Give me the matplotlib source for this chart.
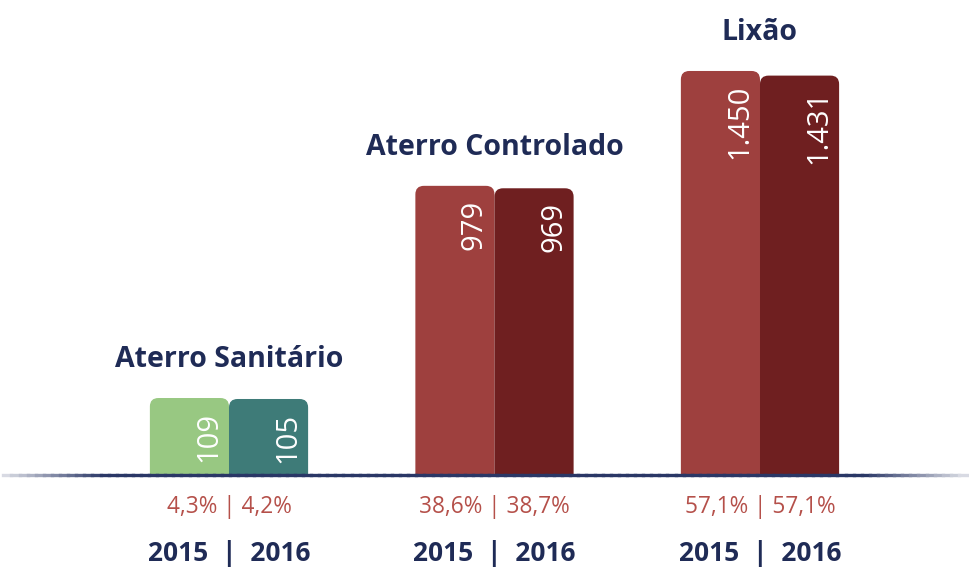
"""
Unidades de destinação final por tipo - 2015 x 2016
"""
import matplotlib
matplotlib.use("Agg")
import matplotlib.pyplot as plt
import numpy as np
from matplotlib.patches import FancyBboxPatch, Rectangle
from matplotlib.collections import LineCollection

plt.rcParams["font.family"] = ["Open Sans", "DejaVu Sans"]

categories = ["Aterro Sanitário", "Aterro Controlado", "Lixão"]
years = ["2015", "2016"]
values_2015 = [109, 979, 1450]
values_2016 = [105, 969, 1431]
pct_2015 = [4.3, 38.6, 57.1]
pct_2016 = [4.2, 38.7, 57.1]

colors_2015 = ["#98c882", "#9e403e", "#9e403e"]
colors_2016 = ["#3e7b78", "#6f1f20", "#6f1f20"]
NAVY = "#1f2b56"
PCT_COLOR = "#b5504a"

# bars are drawn with a visual offset below zero (values not to scale in source)
OFFSET = 207
X_PX = 265.5       # pixels per x unit
Y_PX = 0.2438      # pixels per y unit
WIDTH = 0.298

fig = plt.figure(figsize=(9.7, 5.68), dpi=100)
ax = fig.add_axes([0, 0, 1, 1])
ax.set_xlim(-0.8625, 2.791)
ax.set_ylim(-588, 1741)
ax.axis("off")

base = -OFFSET
clip = Rectangle((-1, base), 5, 5000, transform=ax.transData)


def fmt_int(v):
    return f"{v:,}".replace(",", ".")


def rounded_bar(x, h, color):
    patch = FancyBboxPatch(
        (x, base - 100), WIDTH, h + OFFSET + 100,
        boxstyle="round,pad=0,rounding_size=0.032",
        mutation_aspect=X_PX / Y_PX,
        fc=color, ec="none", zorder=2,
    )
    ax.add_patch(patch)
    patch.set_clip_path(clip)
    return patch


for i, cat in enumerate(categories):
    bars = ax.bar([i - WIDTH / 2, i + WIDTH / 2], [values_2015[i], values_2016[i]],
                  width=WIDTH, visible=False)
    for bar, v, c in zip(bars, [values_2015[i], values_2016[i]],
                         [colors_2015[i], colors_2016[i]]):
        rounded_bar(bar.get_x(), v, c)
        ax.text(bar.get_x() + WIDTH - 20 / X_PX, v - 14 / Y_PX, fmt_int(v),
                rotation=90, ha="center", va="top", color="white",
                fontsize=21, zorder=3)

    top = max(values_2015[i], values_2016[i])
    ax.text(i, top + 31 / Y_PX, cat, ha="center", va="baseline",
            color=NAVY, fontsize=20.5, fontweight="bold")

    pct = f"{pct_2015[i]:.1f}% | {pct_2016[i]:.1f}%".replace(".", ",")
    ax.text(i, base - 32 / Y_PX, pct, ha="center", va="center",
            color=PCT_COLOR, fontsize=16.3)
    ax.text(i, base - 78 / Y_PX, f"{years[0]}  |  {years[1]}", ha="center",
            va="center", color=NAVY, fontsize=19, fontweight="bold")

# baseline with faded ends (opaque blend from pale to navy)
xs = np.linspace(-0.85, 2.78, 120)
segs = [[(xs[k], base), (xs[k + 1], base)] for k in range(len(xs) - 1)]
mid = (xs[:-1] + xs[1:]) / 2
dist = np.minimum(mid - xs[0], xs[-1] - mid)
t = np.clip(0.15 + dist / 0.45, 0, 1)
navy = np.array([0.165, 0.216, 0.4])
cols = [tuple(1 - k * (1 - navy)) for k in t]
ax.add_collection(LineCollection(segs, colors=cols, linewidths=2.4,
                                 capstyle="projecting", zorder=4))

fig.savefig("out.png", dpi=100)
